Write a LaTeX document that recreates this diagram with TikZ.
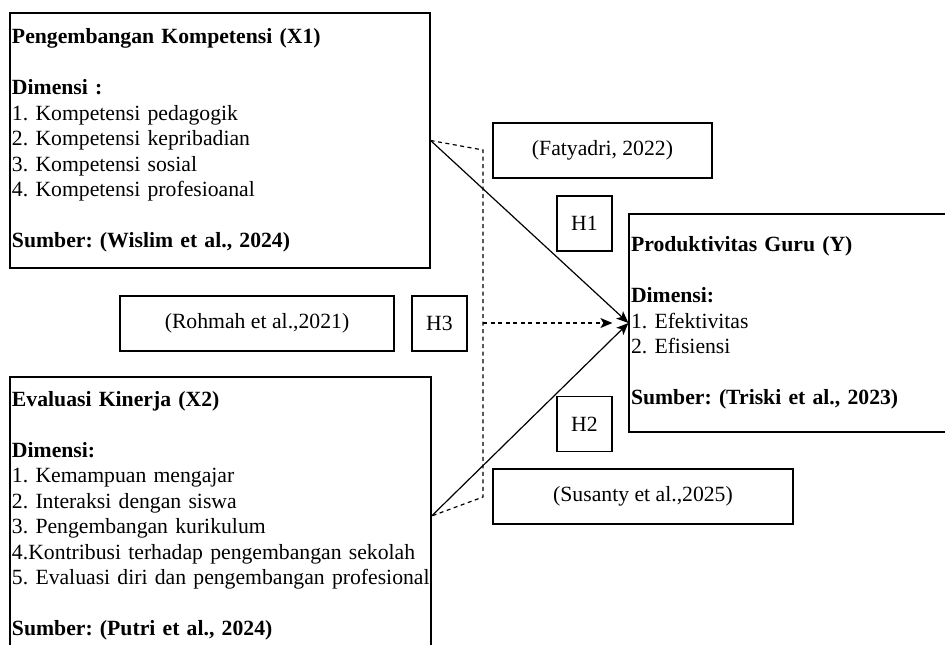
\documentclass[tikz,border=0pt]{standalone}
\usepackage{fontspec}
\setmainfont{Liberation Serif}
\usetikzlibrary{arrows.meta}
\frenchspacing

\begin{document}
\begin{tikzpicture}[x=1pt, y=-1pt,
        kotak/.style={draw, line width=1.2pt, inner sep=0pt, minimum height=55pt, align=center, font=\fontsize{21.7}{25.5}\selectfont},
        variabel/.style={draw, line width=1.2pt, inner xsep=2pt, inner ysep=0pt, align=left, font=\fontsize{21.7}{25.5}\selectfont\frenchspacing},
        panah/.style={line width=1.2pt, -{Stealth[length=12pt, width=10pt, inset=3pt]}},
        putus/.style={line width=1.2pt, dash pattern=on 4pt off 3.5pt}]

        \useasboundingbox (0,0) rectangle (945,645);
        \clip (0,0) rectangle (945,645);

        % 変数ボックス
        \node[variabel, text width=416pt, minimum height=255pt] (x1) at (220,140.5)
            {\textbf{Pengembangan Kompetensi (X1)}\\[25.5pt]
             \textbf{Dimensi :}\\
             1. Kompetensi pedagogik\\
             2. Kompetensi kepribadian\\
             3. Kompetensi sosial\\
             4. Kompetensi profesioanal\\[25.5pt]
             \textbf{Sumber: (Wislim et al., 2024)}};

        \node[variabel, text width=417pt, minimum height=278pt] (x2) at (220.5,516)
            {\textbf{Evaluasi Kinerja (X2)}\\[25.5pt]
             \textbf{Dimensi:}\\
             1. Kemampuan mengajar\\
             2. Interaksi dengan siswa\\
             3. Pengembangan kurikulum\\
             \mbox{4.Kontribusi terhadap pengembangan sekolah}\\
             \mbox{5. Evaluasi diri dan pengembangan profesional}\\[25.5pt]
             \textbf{Sumber: (Putri et al., 2024)}};

        \node[variabel, text width=314pt, minimum height=218pt] (y) at (788,323)
            {\textbf{Produktivitas Guru (Y)}\\[25.5pt]
             \textbf{Dimensi:}\\
             1. Efektivitas\\
             2. Efisiensi\\[25.5pt]
             \textbf{Sumber: (Triski et al., 2023)}};

        % 参考文献
        \node[kotak, minimum width=219pt] (fatyadri) at (602.5,150.5) {(Fatyadri, 2022)};
        \node[kotak, minimum width=274pt] (rohmah) at (257,323.5) {(Rohmah et al.,2021)};
        \node[kotak, minimum width=300pt] (susanty) at (643,496.5) {(Susanty et al.,2025)};

        % 仮説
        \node[kotak, minimum width=55pt] (h1) at (584.5,223.5) {H1};
        \node[kotak, minimum width=55pt] (h2) at (584.5,424) {H2};
        \node[kotak, minimum width=55pt] (h3) at (439.5,323.5) {H3};

        % 矢印
        \draw[panah] (x1.east) -- (y.west);
        \draw[panah] (x2.east) -- (y.west);

        % 破線 (H3)
        \coordinate (atas) at (483,150);
        \coordinate (bawah) at (483,497);
        \coordinate (tengah) at (483,323);
        \draw[putus] (x1.east) -- (atas) -- (bawah) -- (x2.east);
        \draw[putus, -{Stealth[length=12pt, width=10pt, inset=3pt]}] (tengah) -- ([xshift=-16pt]y.west);

\end{tikzpicture}
\end{document}
